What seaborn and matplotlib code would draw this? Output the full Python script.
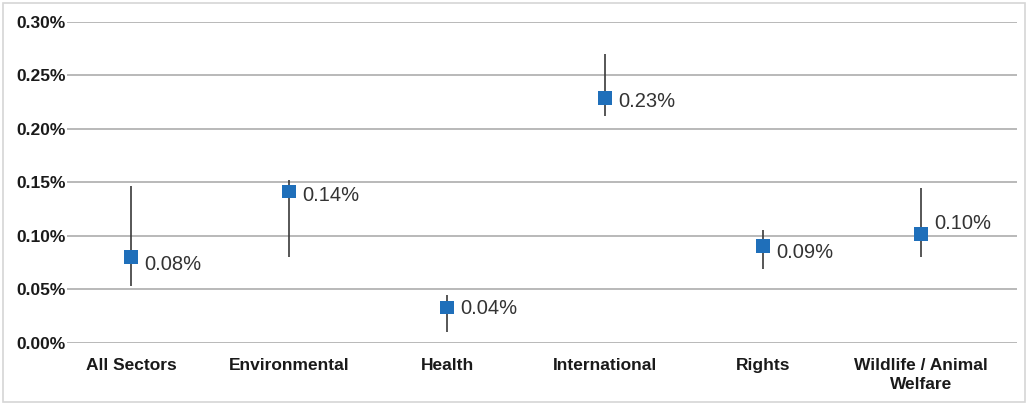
import matplotlib
matplotlib.use("Agg")
import matplotlib.pyplot as plt
import seaborn as sns
import pandas as pd
from matplotlib.patches import Rectangle
from matplotlib.ticker import FuncFormatter

categories = ["All Sectors", "Environmental", "Health", "International", "Rights", "Wildlife / Animal\nWelfare"]
values = [0.0804, 0.1414, 0.0330, 0.2287, 0.0909, 0.1019]
err_low = [0.0533, 0.0807, 0.0100, 0.2121, 0.0692, 0.0801]
err_high = [0.1467, 0.1520, 0.0449, 0.2700, 0.1056, 0.1446]
labels = ["0.08%", "0.14%", "0.04%", "0.23%", "0.09%", "0.10%"]
yticks = [0.00, 0.05, 0.10, 0.15, 0.20, 0.25, 0.30]

sns.set_theme(style="white")
plt.rcParams['font.family'] = ['Liberation Sans', 'DejaVu Sans']

df = pd.DataFrame({"cat": categories, "val": values, "lo": err_low, "hi": err_high})

fig = plt.figure(figsize=(10.31, 4.03), dpi=100)
ax = fig.add_axes([0.065, 0.149, 0.9215, 0.7965])

ax.vlines(range(len(df)), df["lo"], df["hi"], color="#3a3a3a", linewidth=1.2, zorder=2)
sns.scatterplot(data=df, x="cat", y="val", marker="s", s=97, color="#1f6fba",
                edgecolor="none", linewidth=0, ax=ax, zorder=3)

label_down_px = [8, 4, 1, 3, 7, -10]
for i, (v, lab) in enumerate(zip(values, labels)):
    ax.annotate(lab, (i, v), xytext=(9.5, -label_down_px[i] * 0.72), textcoords="offset points",
                ha="left", va="center", fontsize=14.5, color="#333333")

ax.set_ylim(0, 0.30)
ax.set_xlim(-0.405, 5.608)
ax.set_yticks(yticks)
ax.yaxis.set_major_formatter(FuncFormatter(lambda y, p: f"{y:.2f}%"))
ax.grid(axis="y", color="#b3b3b3", linewidth=1.3)
ax.grid(axis="x", visible=False)
ax.set_axisbelow(True)
for s in ax.spines.values():
    s.set_visible(False)
ax.set_xlabel("")
ax.set_ylabel("")
ax.tick_params(axis="both", length=0)
ax.tick_params(axis="y", pad=1)
ax.tick_params(axis="x", pad=11)
for t in ax.get_yticklabels() + ax.get_xticklabels():
    t.set_fontsize(12.5)
    t.set_fontweight("bold")
    t.set_color("#1a1a1a")
for t in ax.get_xticklabels():
    t.set_linespacing(1.3)

fig.patches.append(Rectangle((3 / 1031, 0.002), 1022 / 1031, 1 - 3 / 403 - 0.002, transform=fig.transFigure,
                             fill=False, edgecolor="#d6d6d6", linewidth=1.2))

fig.savefig("out.png", dpi=100)
